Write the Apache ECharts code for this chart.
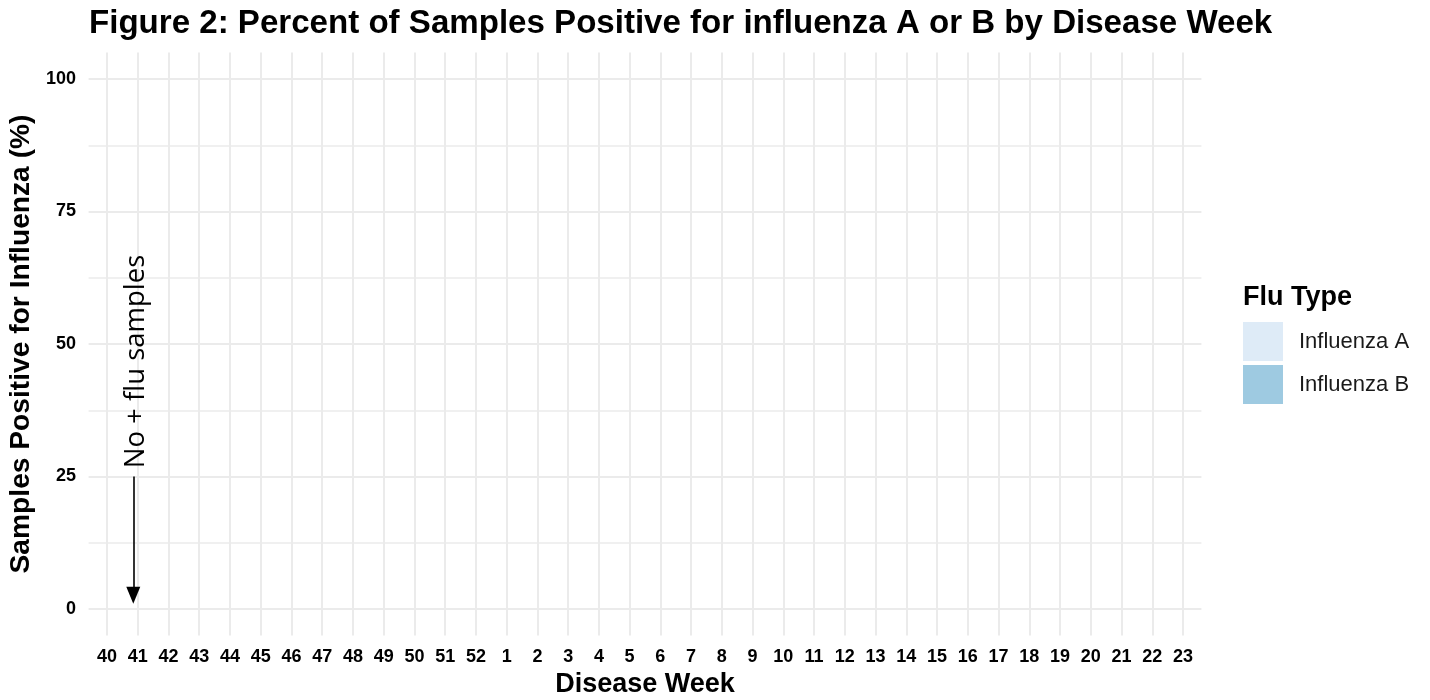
<!DOCTYPE html>
<html>
<head>
<meta charset="utf-8">
<script src="https://cdn.jsdelivr.net/npm/echarts@6/dist/echarts.min.js"></script>
<style>
html,body{margin:0;padding:0;background:#fff;}
#chart{width:1430px;height:700px;}
</style>
</head>
<body>
<div id="chart"></div>
<script>
// ---- data ----
const weeks = ['40','41','42','43','44','45','46','47','48','49','50','51','52',
  '1','2','3','4','5','6','7','8','9','10','11','12','13','14','15','16','17','18','19','20','21','22','23'];
const influenzaA = [0,0,0,0,0,0,0,0,0,0,0,0,0,0,0,0,0,0,0,0,0,0,0,0,0,0,0,0,0,0,0,0,0,0,0,0];
const influenzaB = [0,0,0,0,0,0,0,0,0,0,0,0,0,0,0,0,0,0,0,0,0,0,0,0,0,0,0,0,0,0,0,0,0,0,0,0];
const seriesNames = ['Influenza A', 'Influenza B'];
const yMin = 0, yMax = 100, yStep = 25;
const annotationText = 'No + flu samples';
const annotationWeekPos = 0.855;   // position along week index
const annotationFrom = 25, annotationTo = 2.6;

const GRID_COLOR = '#ebebeb';
const FONT = '"Liberation Sans", Arial, sans-serif';

const chart = echarts.init(document.getElementById('chart'), null, {renderer: 'canvas'});

const option = {
  backgroundColor: '#ffffff',
  animation: false,
  title: [
    {
      text: 'Figure 2: Percent of Samples Positive for influenza A or B by Disease Week',
      left: 84, top: 2,
      textStyle: {fontFamily: FONT, fontWeight: 'bold', fontSize: 33.1, color: '#000'}
    },
    {
      text: 'Flu Type',
      left: 1238, top: 279,
      textStyle: {fontFamily: FONT, fontWeight: 'bold', fontSize: 27, color: '#000'}
    }
  ],
  legend: {
    data: seriesNames,
    orient: 'vertical',
    left: 1243, top: 322,
    padding: 0,
    itemWidth: 40, itemHeight: 39, itemGap: 4,
    icon: 'rect',
    textStyle: {fontFamily: FONT, fontSize: 22, color: '#1a1a1a', padding: [0, 0, 0, 11]}
  },
  grid: [
    {left: 107, right: 247, top: 52.5, bottom: 64.5, containLabel: false, outerBoundsMode: 'none'},
    {left: 88.6, right: 228.6, top: 79, bottom: 91, containLabel: false, outerBoundsMode: 'none'}
  ],
  xAxis: [
    {
      type: 'category', gridIndex: 0, data: weeks, boundaryGap: false,
      axisLine: {show: false, onZero: false}, axisTick: {show: false},
      axisLabel: {fontFamily: FONT, fontWeight: 'bold', fontSize: 18, color: '#000', margin: 12.5, interval: 0},
      splitLine: {show: true, lineStyle: {color: GRID_COLOR, width: 2}},
      name: 'Disease Week', nameLocation: 'middle', nameGap: 34,
      nameTextStyle: {fontFamily: FONT, fontWeight: 'bold', fontSize: 27, color: '#000'}
    },
    {type: 'value', gridIndex: 0, min: 0, max: weeks.length - 1, show: false},
    {type: 'value', gridIndex: 1, min: 0, max: 1, show: false}
  ],
  yAxis: [
    {type: 'value', gridIndex: 0, min: -5, max: 105, show: false},
    {
      type: 'value', gridIndex: 1, min: yMin, max: yMax, interval: yStep,
      axisLine: {show: false}, axisTick: {show: false},
      minorTick: {show: false, splitNumber: 2},
      minorSplitLine: {show: true, lineStyle: {color: GRID_COLOR, width: 1.5}},
      splitLine: {show: true, lineStyle: {color: GRID_COLOR, width: 2}},
      axisLabel: {fontFamily: FONT, fontWeight: 'bold', fontSize: 18, color: '#000', margin: 12.5},
      name: 'Samples Positive for Influenza (%)', nameLocation: 'middle', nameGap: 46, nameRotate: 90,
      nameTextStyle: {fontFamily: FONT, fontWeight: 'bold', fontSize: 28.2, color: '#000'}
    }
  ],
  series: [
    {
      name: seriesNames[0], type: 'bar', stack: 'flu', xAxisIndex: 0, yAxisIndex: 0,
      data: influenzaA, barWidth: '90%',
      itemStyle: {color: '#deebf7'}
    },
    {
      name: seriesNames[1], type: 'bar', stack: 'flu', xAxisIndex: 0, yAxisIndex: 0,
      data: influenzaB, barWidth: '90%',
      itemStyle: {color: '#9ecae1'}
    },
    {
      name: 'annotation', type: 'line', xAxisIndex: 1, yAxisIndex: 0, data: [],
      silent: true, z: 10,
      markLine: {
        silent: true, animation: false,
        symbol: ['none', 'triangle'], symbolSize: [14, 17],
        lineStyle: {color: '#000', width: 1.6, type: 'solid'},
        label: {show: false},
        data: [[{coord: [annotationWeekPos, annotationFrom]}, {coord: [annotationWeekPos, annotationTo]}]]
      }
    }
  ],
  graphic: [
    {
      type: 'text', x: 136.2, y: 361.5, rotation: Math.PI / 2, z: 100,
      style: {
        text: annotationText, align: 'center', verticalAlign: 'middle',
        fontFamily: '"Open Sans", "Noto Sans", sans-serif', fontSize: 27.5, fill: '#000'
      }
    }
  ]
};
chart.setOption(option);
</script>
</body>
</html>
